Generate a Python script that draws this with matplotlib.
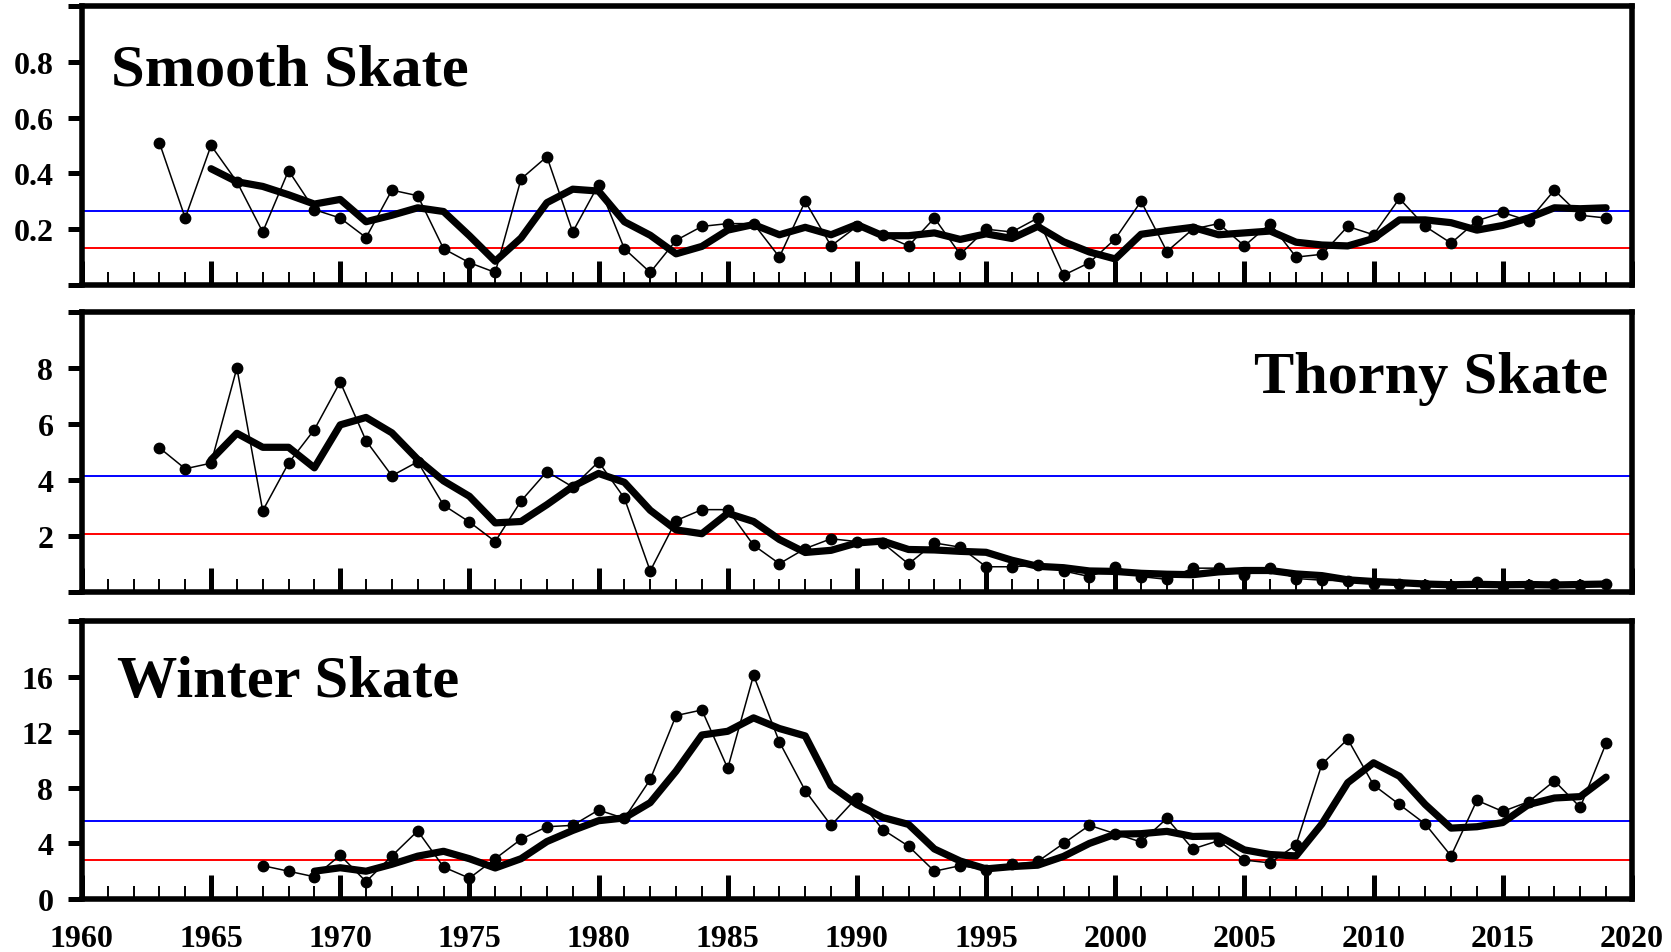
import numpy as np
import pandas as pd
import matplotlib
matplotlib.use("Agg")
import matplotlib.pyplot as plt
from matplotlib.ticker import MultipleLocator, FixedLocator, FixedFormatter

# annual survey values
smooth_years = list(range(1963, 2020))
smooth = [0.51, 0.24, 0.50, 0.37, 0.19, 0.41, 0.27, 0.24, 0.17, 0.34, 0.32, 0.13, 0.08, 0.045, 0.38, 0.46, 0.19, 0.36,
          0.13, 0.045, 0.16, 0.21, 0.22, 0.22, 0.10, 0.30, 0.14, 0.21, 0.18, 0.14, 0.24, 0.11, 0.20, 0.19, 0.24, 0.035, 0.08, 0.165,
          0.30, 0.12, 0.20, 0.22, 0.14, 0.22, 0.10, 0.11, 0.21, 0.18, 0.31, 0.21, 0.15, 0.23, 0.26, 0.23, 0.34, 0.25, 0.24]

thorny_years = list(range(1963, 2020))
thorny = [5.15, 4.4, 4.6, 8.0, 2.9, 4.6, 5.8, 7.5, 5.4, 4.15, 4.65, 3.1, 2.5, 1.8, 3.25, 4.3, 3.75, 4.65,
          3.35, 0.75, 2.55, 2.94, 2.94, 1.67, 1.01, 1.55, 1.9, 1.8, 1.75, 1.0, 1.75, 1.6, 0.9, 0.9, 0.95, 0.75, 0.55, 0.9,
          0.55, 0.45, 0.85, 0.85, 0.6, 0.85, 0.48, 0.42, 0.4, 0.3, 0.3, 0.25, 0.22, 0.35, 0.2, 0.25, 0.3, 0.25, 0.3]

winter_years = list(range(1967, 2020))
winter = [2.4, 2.0, 1.6, 3.15, 1.25, 3.1, 4.9, 2.3, 1.5, 2.9, 4.3, 5.2, 5.3, 6.4,
          5.8, 8.6, 13.2, 13.6, 9.4, 16.1, 11.3, 7.8, 5.3, 7.3, 5.0, 3.8, 2.0, 2.4, 2.1, 2.5, 2.7, 4.0, 5.3, 4.7,
          4.1, 5.8, 3.6, 4.2, 2.8, 2.6, 3.9, 9.7, 11.5, 8.2, 6.8, 5.4, 3.1, 7.1, 6.3, 7.0, 8.5, 6.6, 11.2]

# reference levels (blue = series mean, red = half of it)
smooth_ref = (0.266, 0.133)
thorny_ref = (4.13, 2.07)
winter_ref = (5.62, 2.81)

smooth_ticks = [0, 0.2, 0.4, 0.6, 0.8, 1.0]
smooth_labels = ['', '0.2', '0.4', '0.6', '0.8', '']
thorny_ticks = [0, 2, 4, 6, 8, 10]
thorny_labels = ['', '2', '4', '6', '8', '']
winter_ticks = [0, 4, 8, 12, 16, 20]
winter_labels = ['0', '4', '8', '12', '16', '']

plt.rcParams['font.family'] = ['Liberation Serif', 'DejaVu Serif']
plt.rcParams['font.weight'] = 'bold'

fig = plt.figure(figsize=(16.71, 9.53), dpi=100)

left, width = 0.049, 0.9276
boxes = [[left, 0.6999, width, 0.2928],
         [left, 0.3778, width, 0.2938],
         [left, 0.0556, width, 0.2917]]

panels = [
    ("Smooth Skate", smooth_years, smooth, smooth_ref, smooth_ticks, smooth_labels, (0.019, 0.72, 'left')),
    ("Thorny Skate", thorny_years, thorny, thorny_ref, thorny_ticks, thorny_labels, (0.9845, 0.714, 'right')),
    ("Winter Skate", winter_years, winter, winter_ref, winter_ticks, winter_labels, (0.0226, 0.73, 'left')),
]

for i, (name, yrs, vals, ref, yt, ylab, tpos) in enumerate(panels):
    ax = fig.add_axes(boxes[i])
    s = pd.Series(vals, index=yrs)
    avg = s.rolling(3).mean()   # 3-year running mean (thick line)

    ax.axhline(ref[0], color='#0000ff', lw=1.4, zorder=1)
    ax.axhline(ref[1], color='#ff0000', lw=1.4, zorder=1)
    ax.plot(s.index, s.values, color='black', lw=1.1, marker='o', ms=7.5, zorder=3)
    ax.plot(avg.index, avg.values, color='black', lw=5.2, solid_capstyle='round',
            solid_joinstyle='round', zorder=4)

    ax.set_xlim(1960, 2020)
    ax.set_ylim(yt[0], yt[-1])

    ax.xaxis.set_major_locator(MultipleLocator(5))
    ax.xaxis.set_minor_locator(MultipleLocator(1))
    ax.tick_params(axis='x', which='major', direction='in', length=17, width=3.6,
                   labelsize=23, pad=18, top=False)
    ax.tick_params(axis='x', which='minor', direction='in', length=9.7, width=1.4, top=False)
    if i < 2:
        ax.tick_params(axis='x', which='major', labelbottom=False)

    ax.yaxis.set_major_locator(FixedLocator(yt))
    ax.yaxis.set_major_formatter(FixedFormatter(ylab))
    ax.tick_params(axis='y', which='major', direction='out', length=10, width=3.6,
                   labelsize=23, pad=10.5)

    for sp in ax.spines.values():
        sp.set_linewidth(4)

    ax.text(tpos[0], tpos[1], name, transform=ax.transAxes, ha=tpos[2], va='baseline',
            fontsize=43.5, fontweight='bold')

fig.savefig('out.png', dpi=100)
